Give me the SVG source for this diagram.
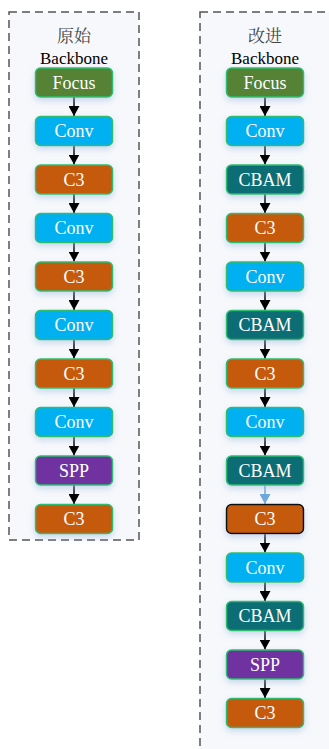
<svg xmlns="http://www.w3.org/2000/svg" width="329" height="749" viewBox="0 0 329 749">
<style>
.frame{fill:#f6f8fb;stroke:#555;stroke-width:1.5;stroke-dasharray:8,5}
.node rect{stroke:#2ebd6e;stroke-width:1.5;filter:url(#sh)}
.node text{fill:#fff;font-family:'Liberation Serif','Times New Roman',serif;font-size:18px;text-anchor:middle}
.focus rect{fill:#548235}
.conv rect{fill:#00b0f0}
.c3 rect{fill:#c55a11}
.cbam rect{fill:#0e6d75}
.spp rect{fill:#7030a0}
.hl rect{stroke:#111}
.lbl{font-family:'Liberation Serif','Times New Roman','Noto Serif CJK SC','Noto Sans CJK SC',serif;font-size:17px;text-anchor:middle}
.edge{stroke:#000;stroke-width:1.5;fill:none;marker-end:url(#ah)}
.edge.blue{stroke:#6fa8dc;marker-end:url(#ahb)}
</style>
<defs>
<filter id="sh" x="-30%" y="-40%" width="160%" height="200%">
<feDropShadow dx="0" dy="3" stdDeviation="3" flood-color="#9bb8e0" flood-opacity="0.5"/>
</filter>
<marker id="ah" markerWidth="10" markerHeight="11" refX="10" refY="5.5" orient="auto" markerUnits="userSpaceOnUse"><path d="M0,0 L10,5.5 L0,11 z" fill="#000"/></marker>
<marker id="ahb" markerWidth="10" markerHeight="11" refX="10" refY="5.5" orient="auto" markerUnits="userSpaceOnUse"><path d="M0,0 L10,5.5 L0,11 z" fill="#6fa8dc"/></marker>
</defs>
<rect class="frame" x="9" y="12" width="130" height="528"/>
<rect class="frame" x="200" y="12" width="140" height="760"/>
<text class="lbl" x="74" y="42" fill="#444">原始</text>
<text class="lbl" x="74" y="64" fill="#000">Backbone</text>
<text class="lbl" x="265" y="42" fill="#444">改进</text>
<text class="lbl" x="265" y="64" fill="#000">Backbone</text>
<g id="connectors">
<line class="edge" x1="74" y1="97" x2="74" y2="116"/>
<line class="edge" x1="74" y1="145.5" x2="74" y2="164.5"/>
<line class="edge" x1="74" y1="194" x2="74" y2="213"/>
<line class="edge" x1="74" y1="242.5" x2="74" y2="261.5"/>
<line class="edge" x1="74" y1="291" x2="74" y2="310"/>
<line class="edge" x1="74" y1="339.5" x2="74" y2="358.5"/>
<line class="edge" x1="74" y1="388" x2="74" y2="407"/>
<line class="edge" x1="74" y1="436.5" x2="74" y2="455.5"/>
<line class="edge" x1="74" y1="485" x2="74" y2="504"/>
<line class="edge" x1="265" y1="97" x2="265" y2="116"/>
<line class="edge" x1="265" y1="145.5" x2="265" y2="164.5"/>
<line class="edge" x1="265" y1="194" x2="265" y2="213"/>
<line class="edge" x1="265" y1="242.5" x2="265" y2="261.5"/>
<line class="edge" x1="265" y1="291" x2="265" y2="310"/>
<line class="edge" x1="265" y1="339.5" x2="265" y2="358.5"/>
<line class="edge" x1="265" y1="388" x2="265" y2="407"/>
<line class="edge" x1="265" y1="436.5" x2="265" y2="455.5"/>
<line class="edge blue" x1="265" y1="485" x2="265" y2="504"/>
<line class="edge" x1="265" y1="533.5" x2="265" y2="552.5"/>
<line class="edge" x1="265" y1="582" x2="265" y2="601"/>
<line class="edge" x1="265" y1="630.5" x2="265" y2="649.5"/>
<line class="edge" x1="265" y1="679" x2="265" y2="698"/>
</g>
<g id="L0" class="node focus"><rect x="35.5" y="68" width="77" height="29" rx="5"/><text x="74" y="88.5">Focus</text></g>
<g id="L1" class="node conv"><rect x="35.5" y="116.5" width="77" height="29" rx="5"/><text x="74" y="137">Conv</text></g>
<g id="L2" class="node c3"><rect x="35.5" y="165" width="77" height="29" rx="5"/><text x="74" y="185.5">C3</text></g>
<g id="L3" class="node conv"><rect x="35.5" y="213.5" width="77" height="29" rx="5"/><text x="74" y="234">Conv</text></g>
<g id="L4" class="node c3"><rect x="35.5" y="262" width="77" height="29" rx="5"/><text x="74" y="282.5">C3</text></g>
<g id="L5" class="node conv"><rect x="35.5" y="310.5" width="77" height="29" rx="5"/><text x="74" y="331">Conv</text></g>
<g id="L6" class="node c3"><rect x="35.5" y="359" width="77" height="29" rx="5"/><text x="74" y="379.5">C3</text></g>
<g id="L7" class="node conv"><rect x="35.5" y="407.5" width="77" height="29" rx="5"/><text x="74" y="428">Conv</text></g>
<g id="L8" class="node spp"><rect x="35.5" y="456" width="77" height="29" rx="5"/><text x="74" y="476.5">SPP</text></g>
<g id="L9" class="node c3"><rect x="35.5" y="504.5" width="77" height="29" rx="5"/><text x="74" y="525">C3</text></g>
<g id="R0" class="node focus"><rect x="226.5" y="68" width="77" height="29" rx="5"/><text x="265" y="88.5">Focus</text></g>
<g id="R1" class="node conv"><rect x="226.5" y="116.5" width="77" height="29" rx="5"/><text x="265" y="137">Conv</text></g>
<g id="R2" class="node cbam"><rect x="226.5" y="165" width="77" height="29" rx="5"/><text x="265" y="185.5">CBAM</text></g>
<g id="R3" class="node c3"><rect x="226.5" y="213.5" width="77" height="29" rx="5"/><text x="265" y="234">C3</text></g>
<g id="R4" class="node conv"><rect x="226.5" y="262" width="77" height="29" rx="5"/><text x="265" y="282.5">Conv</text></g>
<g id="R5" class="node cbam"><rect x="226.5" y="310.5" width="77" height="29" rx="5"/><text x="265" y="331">CBAM</text></g>
<g id="R6" class="node c3"><rect x="226.5" y="359" width="77" height="29" rx="5"/><text x="265" y="379.5">C3</text></g>
<g id="R7" class="node conv"><rect x="226.5" y="407.5" width="77" height="29" rx="5"/><text x="265" y="428">Conv</text></g>
<g id="R8" class="node cbam"><rect x="226.5" y="456" width="77" height="29" rx="5"/><text x="265" y="476.5">CBAM</text></g>
<g id="R9" class="node c3 hl"><rect x="226.5" y="504.5" width="77" height="29" rx="5"/><text x="265" y="525">C3</text></g>
<g id="R10" class="node conv"><rect x="226.5" y="553" width="77" height="29" rx="5"/><text x="265" y="573.5">Conv</text></g>
<g id="R11" class="node cbam"><rect x="226.5" y="601.5" width="77" height="29" rx="5"/><text x="265" y="622">CBAM</text></g>
<g id="R12" class="node spp"><rect x="226.5" y="650" width="77" height="29" rx="5"/><text x="265" y="670.5">SPP</text></g>
<g id="R13" class="node c3"><rect x="226.5" y="698.5" width="77" height="29" rx="5"/><text x="265" y="719">C3</text></g>
</svg>
